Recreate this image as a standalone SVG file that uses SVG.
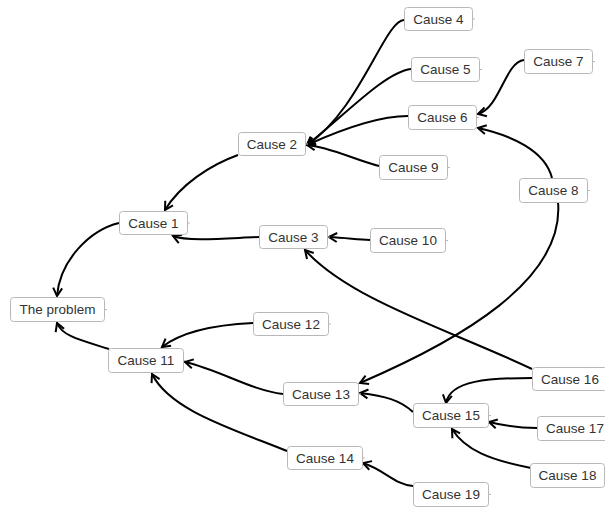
<svg xmlns="http://www.w3.org/2000/svg" width="605" height="507" viewBox="0 0 605 507">
<style>
.box{fill:#fff;stroke:#b8b8b8;stroke-width:1}
.tick{stroke:#b8b8b8;stroke-width:1}
.lbl{font-family:"Liberation Sans",Arial,sans-serif;font-size:13.5px;fill:#333;text-anchor:middle;dominant-baseline:central}
.edge{fill:none;stroke:#000;stroke-width:2;marker-end:url(#arr)}
</style>
<defs>
<marker id="arr" markerUnits="userSpaceOnUse" viewBox="-10 -6 12 12" refX="0" refY="0" markerWidth="12" markerHeight="12" orient="auto">
<path d="M-8,-4.5 L0,0 L-8,4.5" fill="none" stroke="#000" stroke-width="2"/>
</marker>
</defs>
<rect width="605" height="507" fill="#fff"/>
<g id="connectors">
<path class="edge" d="M119,223 C90,230 60,260 57,296"/>
<path class="edge" d="M109,349 C80,340 62,336 57,323"/>
<path class="edge" d="M238,155 C210,165 180,185 165,210"/>
<path class="edge" d="M259,237 C230,238 188,242 173,236"/>
<path class="edge" d="M404,20 C385,20 360,110 307,145"/>
<path class="edge" d="M411,69 C385,72 345,115 307,145"/>
<path class="edge" d="M408,116 C380,116 340,130 307,145"/>
<path class="edge" d="M379,166 C355,160 330,147 307,145"/>
<path class="edge" d="M524,60 C505,62 500,108 478,114"/>
<path class="edge" d="M552,178 C545,150 510,135 478,128"/>
<path class="edge" d="M558,202 C565,280 460,340 360,383"/>
<path class="edge" d="M370,240 C355,239 345,238 329,237"/>
<path class="edge" d="M532,369 C450,330 350,300 305,250"/>
<path class="edge" d="M253,323 C210,325 180,333 162,347"/>
<path class="edge" d="M283,394 C250,390 220,370 185,362"/>
<path class="edge" d="M287,451 C230,428 170,410 152,374"/>
<path class="edge" d="M413,412 C400,400 385,396 360,393"/>
<path class="edge" d="M532,378 C490,378 450,380 446,403"/>
<path class="edge" d="M537,428 C520,428 505,426 489,422"/>
<path class="edge" d="M531,468 C490,460 465,450 452,429"/>
<path class="edge" d="M413,486 C395,485 385,470 363,463"/>
</g>
<g id="problem"><rect class="box" x="10.5" y="297.5" width="94" height="24" rx="3"/><line class="tick" x1="104.5" y1="309.5" x2="107" y2="309.5"/><text class="lbl" x="57.5" y="309.5">The problem</text></g>
<g id="cause1"><rect class="box" x="119.5" y="211.5" width="68" height="23" rx="3"/><line class="tick" x1="187.5" y1="223" x2="190" y2="223"/><text class="lbl" x="153.5" y="223">Cause 1</text></g>
<g id="cause2"><rect class="box" x="238.5" y="132.5" width="67" height="23" rx="3"/><line class="tick" x1="305.5" y1="144" x2="308" y2="144"/><text class="lbl" x="272" y="144">Cause 2</text></g>
<g id="cause3"><rect class="box" x="259.5" y="225.5" width="68" height="23" rx="3"/><line class="tick" x1="327.5" y1="237" x2="330" y2="237"/><text class="lbl" x="293.5" y="237">Cause 3</text></g>
<g id="cause4"><rect class="box" x="404.5" y="7.5" width="68" height="23" rx="3"/><line class="tick" x1="472.5" y1="19" x2="475" y2="19"/><text class="lbl" x="438.5" y="19">Cause 4</text></g>
<g id="cause5"><rect class="box" x="411.5" y="57.5" width="68" height="24" rx="3"/><line class="tick" x1="479.5" y1="69.5" x2="482" y2="69.5"/><text class="lbl" x="445.5" y="69.5">Cause 5</text></g>
<g id="cause6"><rect class="box" x="408.5" y="105.5" width="68" height="24" rx="3"/><line class="tick" x1="476.5" y1="117.5" x2="479" y2="117.5"/><text class="lbl" x="442.5" y="117.5">Cause 6</text></g>
<g id="cause7"><rect class="box" x="524.5" y="49.5" width="68" height="24" rx="3"/><line class="tick" x1="592.5" y1="61.5" x2="595" y2="61.5"/><text class="lbl" x="558.5" y="61.5">Cause 7</text></g>
<g id="cause8"><rect class="box" x="519.5" y="178.5" width="68" height="24" rx="3"/><line class="tick" x1="587.5" y1="190.5" x2="590" y2="190.5"/><text class="lbl" x="553.5" y="190.5">Cause 8</text></g>
<g id="cause9"><rect class="box" x="379.5" y="155.5" width="68" height="24" rx="3"/><line class="tick" x1="447.5" y1="167.5" x2="450" y2="167.5"/><text class="lbl" x="413.5" y="167.5">Cause 9</text></g>
<g id="cause10"><rect class="box" x="370.5" y="228.5" width="75" height="24" rx="3"/><line class="tick" x1="445.5" y1="240.5" x2="448" y2="240.5"/><text class="lbl" x="408" y="240.5">Cause 10</text></g>
<g id="cause11"><rect class="box" x="108.5" y="348.5" width="75" height="24" rx="3"/><line class="tick" x1="183.5" y1="360.5" x2="186" y2="360.5"/><text class="lbl" x="146" y="360.5">Cause 11</text></g>
<g id="cause12"><rect class="box" x="253.5" y="312.5" width="75" height="23" rx="3"/><line class="tick" x1="328.5" y1="324" x2="331" y2="324"/><text class="lbl" x="291" y="324">Cause 12</text></g>
<g id="cause13"><rect class="box" x="283.5" y="382.5" width="75" height="23" rx="3"/><line class="tick" x1="358.5" y1="394" x2="361" y2="394"/><text class="lbl" x="321" y="394">Cause 13</text></g>
<g id="cause14"><rect class="box" x="287.5" y="446.5" width="75" height="23" rx="3"/><line class="tick" x1="362.5" y1="458" x2="365" y2="458"/><text class="lbl" x="325" y="458">Cause 14</text></g>
<g id="cause15"><rect class="box" x="413.5" y="403.5" width="75" height="24" rx="3"/><line class="tick" x1="488.5" y1="415.5" x2="491" y2="415.5"/><text class="lbl" x="451" y="415.5">Cause 15</text></g>
<g id="cause16"><rect class="box" x="532.5" y="367.5" width="75" height="23" rx="3"/><text class="lbl" x="570" y="379">Cause 16</text></g>
<g id="cause17"><rect class="box" x="537.5" y="416.5" width="75" height="24" rx="3"/><text class="lbl" x="575" y="428.5">Cause 17</text></g>
<g id="cause18"><rect class="box" x="530.5" y="463.5" width="74" height="24" rx="3"/><text class="lbl" x="567.5" y="475.5">Cause 18</text></g>
<g id="cause19"><rect class="box" x="413.5" y="482.5" width="75" height="24" rx="3"/><line class="tick" x1="488.5" y1="494.5" x2="491" y2="494.5"/><text class="lbl" x="451" y="494.5">Cause 19</text></g>
</svg>
